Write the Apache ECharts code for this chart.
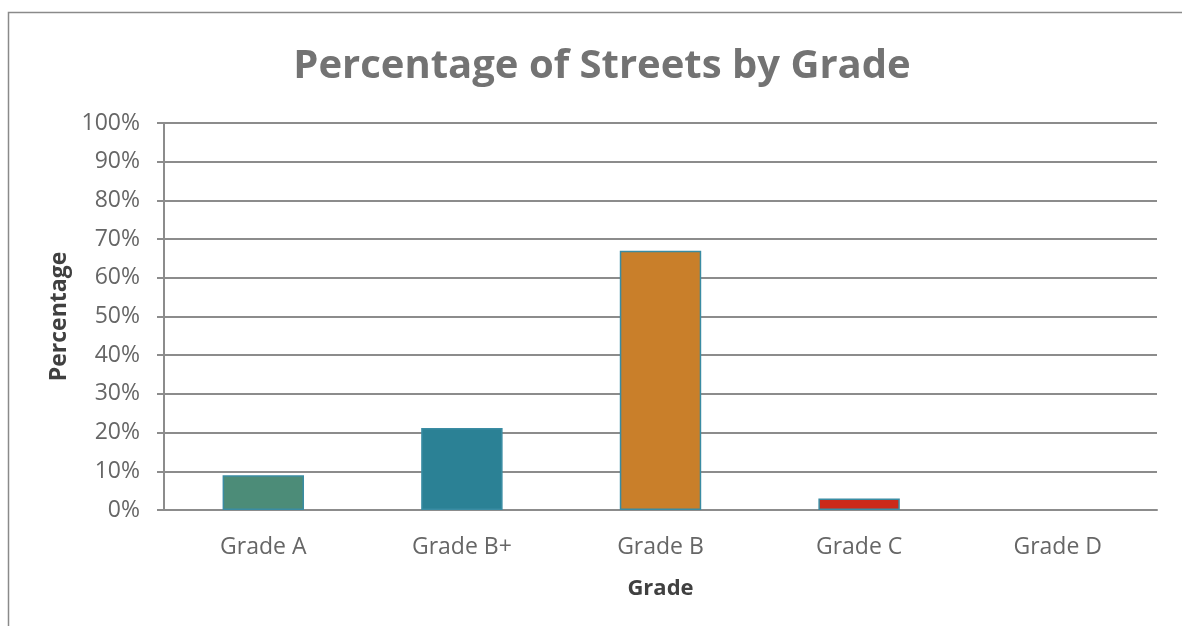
<!DOCTYPE html>
<html>
<head>
<meta charset="utf-8">
<script src="https://cdn.jsdelivr.net/npm/echarts@6/dist/echarts.min.js"></script>
<style>
html,body{margin:0;padding:0;background:#fff;}
#chart{width:1182px;height:626px;}
</style>
</head>
<body>
<div id="chart"></div>
<script>
const categories = ['Grade A', 'Grade B+', 'Grade B', 'Grade C', 'Grade D'];
const values = [9, 21.2, 67, 3, 0];
const barColors = ['#4c8c78', '#2b8195', '#c97f2a', '#cc2a1a', '#7f7f7f'];
const yTicks = [0, 10, 20, 30, 40, 50, 60, 70, 80, 90, 100];

const chart = echarts.init(document.getElementById('chart'));
chart.setOption({
  animation: false,
  backgroundColor: '#ffffff',
  title: {
    text: 'Percentage of Streets by Grade',
    left: 597, top: 42, textAlign: 'center',
    textStyle: { fontFamily: 'Open Sans', fontWeight: 'bold', fontSize: 40, color: '#737373' }
  },
  graphic: [{
    type: 'rect', left: 6, top: 10, silent: true,
    shape: { width: 1300, height: 800 },
    style: { fill: 'none', stroke: '#8a8a8a', lineWidth: 1.5 }
  }],
  grid: { left: 164, right: 25, top: 123, bottom: 116 },
  xAxis: {
    type: 'category', data: categories,
    name: 'Grade', nameLocation: 'middle', nameGap: 68,
    nameTextStyle: { fontFamily: 'Open Sans', fontWeight: 'bold', fontSize: 22, color: '#404040' },
    axisLine: { lineStyle: { color: '#8c8c8c', width: 2 } },
    axisTick: { show: false },
    axisLabel: { fontFamily: 'Open Sans', fontSize: 23, color: '#666666', margin: 26 }
  },
  yAxis: {
    type: 'value', min: 0, max: 100, interval: 10,
    name: 'Percentage', nameLocation: 'middle', nameGap: 82,
    nameTextStyle: { fontFamily: 'Open Sans', fontWeight: 'bold', fontSize: 23, color: '#404040' },
    axisLine: { show: true, lineStyle: { color: '#8c8c8c', width: 2 } },
    axisTick: { show: true, length: 7, lineStyle: { color: '#8c8c8c', width: 2 } },
    splitLine: { lineStyle: { color: '#8c8c8c', width: 2 } },
    axisLabel: {
      fontFamily: 'Open Sans', fontSize: 23, color: '#666666', margin: 24,
      formatter: v => (yTicks.includes(v) ? v + '%' : '')
    }
  },
  series: [{
    type: 'bar',
    data: values.map((v, i) => ({
      value: v,
      itemStyle: { color: barColors[i], borderWidth: v > 0 ? 1.5 : 0 }
    })),
    barCategoryGap: '59%',
    itemStyle: { borderColor: '#3a8ca3', borderWidth: 1.5 }
  }]
});
</script>
</body>
</html>
